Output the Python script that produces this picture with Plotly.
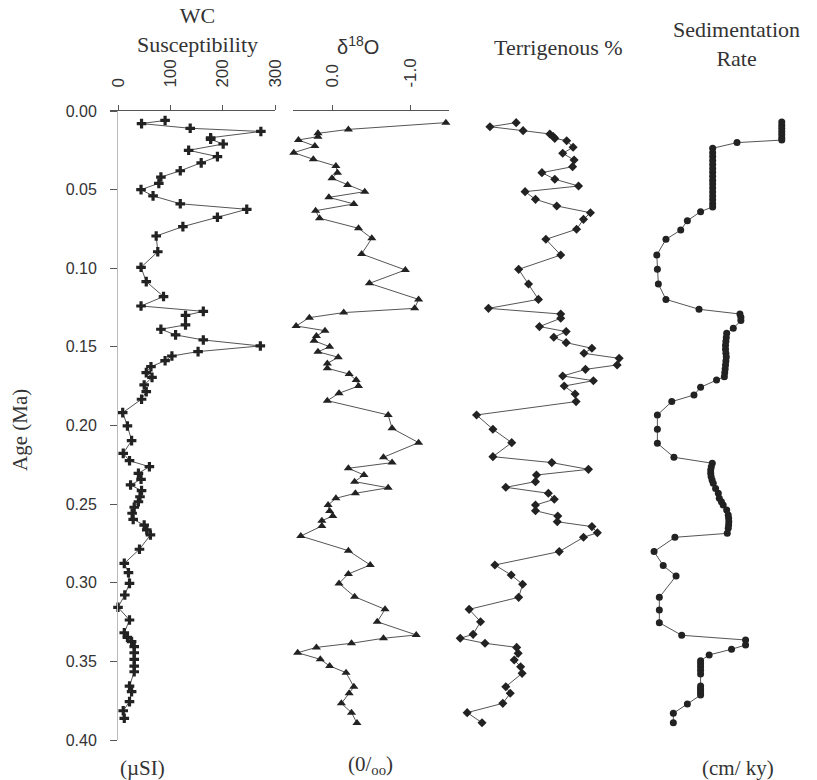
import plotly.graph_objects as go

# ---------------- data ----------------
wc_age = [0.006,0.008,0.011,0.013,0.017,0.018,0.021,0.025,0.029,0.033,
          0.038,0.042,0.046,0.050,0.054,0.059,0.0625,0.0676,0.0735,0.0795,
          0.0895,0.0994,0.1085,0.118,0.124,0.1274,0.130,0.136,0.1388,0.1424,
          0.1456,0.1494,0.153,0.1558,0.1588,0.1626,0.1664,0.1694,0.1742,0.1785,
          0.1833,0.1918,0.2003,0.2096,0.2177,0.2224,0.2262,0.2304,0.2342,0.2378,
          0.2414,0.2453,0.2485,0.252,0.2558,0.2597,0.2633,0.2664,0.2696,0.2787,
          0.2877,0.2936,0.3004,0.3078,0.3156,0.3237,0.3318,0.3347,0.3375,0.3406,
          0.3445,0.3487,0.353,0.3566,0.3657,0.3693,0.3756,0.3814,0.3862]
wc_susceptibility = [90,45,138,273,177,177,201,135,190,159,
                     119,82,78,44,67,119,246,190,124,73,
                     76,44,54,87,44,163,129,129,82,110,
                     163,272,153,103,90,63,54,65,50,54,
                     45,9,18,26,10,22,60,39,44,24,
                     45,42,39,31,27,29,50,55,62,41,
                     12,20,22,13,0,22,12,18,26,31,
                     31,31,31,31,22,26,22,10,12]

d18o_age = [0.0074,0.0117,0.0142,0.0163,0.0184,0.0223,0.0265,0.0307,0.035,0.0392,
            0.0428,0.047,0.0513,0.0549,0.0591,0.0634,0.0682,0.0746,0.081,0.0909,
            0.1011,0.1096,0.1198,0.1255,0.1282,0.1314,0.1367,0.1397,0.1431,0.1461,
            0.1499,0.1531,0.1566,0.1605,0.1636,0.1673,0.1711,0.1749,0.1795,0.1842,
            0.1933,0.2018,0.2109,0.2202,0.2236,0.2272,0.2315,0.2357,0.2396,0.2431,
            0.2463,0.2506,0.2544,0.2576,0.2605,0.2639,0.2703,0.2796,0.2887,0.2944,
            0.3004,0.3089,0.3169,0.3248,0.3332,0.3353,0.3385,0.3411,0.3445,0.3487,
            0.3529,0.3572,0.3661,0.3703,0.3767,0.3826,0.3892]
d18o = [-1.46,-0.21,0.18,0.18,0.43,0.22,0.49,0.24,-0.05,-0.07,
        0.0,-0.2,-0.42,0.04,-0.28,0.21,0.16,-0.34,-0.51,-0.38,
        -0.94,-0.48,-1.11,-1.06,-0.15,0.29,0.46,0.09,0.2,0.23,
        0.03,0.18,-0.08,0.06,0.06,-0.22,-0.31,-0.34,-0.09,0.06,
        -0.72,-0.77,-1.11,-0.66,-0.77,-0.21,-0.41,-0.29,-0.72,-0.3,
        -0.05,0.05,0.03,-0.01,0.13,0.13,0.4,-0.21,-0.49,-0.21,
        -0.09,-0.29,-0.68,-0.58,-1.08,-0.66,-0.25,0.2,0.44,0.15,
        0.03,-0.18,-0.28,-0.22,-0.12,-0.25,-0.32]

terr_age = [0.0074,0.01,0.0125,0.0146,0.0163,0.0174,0.0189,0.0231,0.0269,0.0312,
            0.0354,0.0392,0.0434,0.0477,0.0513,0.0562,0.0604,0.0647,0.0689,0.0752,
            0.0816,0.0916,0.1007,0.11,0.1198,0.1255,0.1291,0.1318,0.1371,0.1403,
            0.1439,0.1473,0.1509,0.1541,0.1573,0.1615,0.1643,0.1685,0.1715,0.1749,
            0.18,0.1848,0.1933,0.2024,0.2109,0.2198,0.2236,0.2279,0.2315,0.2357,
            0.2393,0.2431,0.2469,0.2506,0.2542,0.2576,0.2612,0.2643,0.2682,0.2711,
            0.2802,0.2887,0.2951,0.301,0.3093,0.3169,0.3248,0.3328,0.3353,0.3385,
            0.3411,0.3449,0.3491,0.3534,0.3576,0.3661,0.3703,0.3767,0.3826,0.389]
terrigenous = [26.5,21.2,27.9,33.3,34.0,34.3,36.7,38.0,35.9,38.2,
               37.9,31.7,34.3,39.1,28.3,30.4,34.7,41.5,40.1,38.7,
               32.5,35.5,27.0,29.0,31.0,20.9,35.5,35.5,31.2,36.6,
               34.1,36.6,41.8,40.2,47.3,46.9,40.5,35.9,42.1,36.2,
               38.4,38.6,18.5,21.8,25.6,21.8,33.7,41.1,30.6,30.4,
               24.4,33.0,34.2,30.4,30.4,34.9,34.8,41.8,42.9,40.1,
               35.2,22.2,25.5,27.8,27.0,17.0,19.3,17.8,15.2,20.2,
               26.6,26.9,26.1,27.4,27.7,24.4,25.3,23.8,16.6,19.6]

sed_age = [0.007,0.009,0.011,0.013,0.015,0.017,0.0185,0.0201,0.0237,0.0265,
           0.029,0.0315,0.034,0.0365,0.039,0.0415,0.044,0.0465,0.049,0.0515,
           0.054,0.0565,0.059,0.061,0.064,0.0698,0.0757,0.0816,0.0916,0.1007,
           0.11,0.1198,0.1261,0.1291,0.1312,0.1333,0.1382,0.1414,0.144,0.1465,
           0.149,0.1515,0.154,0.1565,0.159,0.1615,0.164,0.1665,0.169,0.1711,
           0.1757,0.1806,0.1848,0.1933,0.2024,0.2113,0.2202,0.224,0.2262,0.2283,
           0.2304,0.2325,0.2347,0.2368,0.24,0.2431,0.2463,0.2485,0.2506,0.2537,
           0.2569,0.259,0.2612,0.2633,0.2654,0.2686,0.2711,0.2802,0.2891,0.2957,
           0.3093,0.3173,0.3254,0.3334,0.3364,0.3396,0.3423,0.3459,0.3496,0.3515,
           0.3534,0.3557,0.358,0.3657,0.3672,0.3686,0.37,0.3714,0.3771,0.383,
           0.389]
sed_rate = [8.55,8.55,8.55,8.55,8.55,8.55,8.55,6.25,5.0,5.0,
            5.0,5.0,5.0,5.0,5.0,5.0,5.0,5.0,5.0,5.0,
            5.0,5.0,5.0,5.0,4.38,3.7,3.36,2.6,2.13,2.16,
            2.21,2.6,4.3,6.4,6.45,6.45,6.06,5.72,5.7,5.68,
            5.66,5.66,5.68,5.7,5.68,5.66,5.64,5.62,5.6,5.2,
            4.38,4.04,2.9,2.16,2.16,2.16,3.01,4.98,4.93,4.9,
            4.9,4.92,4.97,5.03,5.15,5.29,5.34,5.45,5.54,5.72,
            5.8,5.82,5.83,5.82,5.8,5.75,3.06,1.99,2.46,3.12,
            2.26,2.26,2.26,3.41,6.69,6.69,5.97,4.82,4.38,4.38,
            4.38,4.38,4.38,4.38,4.38,4.38,4.38,4.38,3.7,2.98,
            2.98]

age_ticks = [0.00, 0.05, 0.10, 0.15, 0.20, 0.25, 0.30, 0.35, 0.40]
wc_ticks = [0, 100, 200, 300]
wc_ticktext = ["0", "100", "200", "300"]
d18o_ticks = [0.0, -1.0]
d18o_ticktext = ["0.0", "-1.0"]
terr_ticks = [20, 30, 40, 50]
terr_ticktext = ["20", "30", "40", "50"]
sed_ticks = [2.5, 5, 7.5, 10]
sed_ticktext = ["3", "5", "8", "10"]

# ---------------- layout geometry ----------------
W, H = 817, 780
TOP_PX, BOT_PX = 111, 740
ydom = [1 - BOT_PX / H, 1 - TOP_PX / H]


def axis_range(p0, p1, ap, av, bp, bv):
    """range of an axis spanning pixels p0..p1 where value av sits at ap, bv at bp"""
    k = (bv - av) / (bp - ap)
    return [av + (p0 - ap) * k, av + (p1 - ap) * k]


def dom(p0, p1):
    return [p0 / W, p1 / W]


# visible axes (pixel span, two calibration points)
P1 = (110, 275, 118, 0, 275, 300)
P2 = (293, 449, 332, 0.0, 410, -1.0)
P3 = (480, 633, 484, 20, 583, 40)
P4 = (657, 811, 664, 2.5, 810, 10)
# data axes for panels whose points spill past the drawn axis line
P3d = (450, 642) + P3[2:]
P4d = (648, 815) + P4[2:]

INK = "#222222"
LINE = "#555555"
SANS = "Liberation Sans, Arial, sans-serif"
SERIF = "Liberation Serif, Times New Roman, serif"

fig = go.Figure()

fig.add_trace(go.Scatter(x=wc_susceptibility, y=wc_age, xaxis="x", yaxis="y",
                         mode="lines+markers", cliponaxis=False,
                         line=dict(color=LINE, width=1),
                         marker=dict(symbol="cross", size=8, color=INK)))
fig.add_trace(go.Scatter(x=d18o, y=d18o_age, xaxis="x2", yaxis="y",
                         mode="lines+markers", cliponaxis=False,
                         line=dict(color=LINE, width=1),
                         marker=dict(symbol="triangle-up", size=8, color=INK)))
fig.add_trace(go.Scatter(x=terrigenous, y=terr_age, xaxis="x5", yaxis="y",
                         mode="lines+markers", cliponaxis=False,
                         line=dict(color=LINE, width=1),
                         marker=dict(symbol="diamond", size=7, color=INK)))
fig.add_trace(go.Scatter(x=sed_rate, y=sed_age, xaxis="x6", yaxis="y",
                         mode="lines+markers", cliponaxis=False,
                         line=dict(color=LINE, width=1),
                         marker=dict(symbol="circle", size=7, color=INK)))


def top_axis(p, tickvals, ticktext):
    return dict(domain=dom(p[0], p[1]), range=axis_range(*p), anchor="y",
                side="top", showline=True, linecolor=LINE, linewidth=1,
                ticks="outside", ticklen=5, tickcolor=LINE, tickwidth=1,
                tickvals=tickvals, ticktext=ticktext, tickangle=-90,
                ticklabelstandoff=14,
                tickfont=dict(family=SANS, size=17, color="#333"),
                showgrid=False, zeroline=False, automargin=False)


def hidden_axis(p):
    return dict(domain=dom(p[0], p[1]), range=axis_range(*p), anchor="y",
                visible=False, showgrid=False, zeroline=False)


fig.update_layout(
    width=W, height=H,
    margin=dict(l=0, r=0, t=0, b=0),
    paper_bgcolor="white", plot_bgcolor="rgba(0,0,0,0)",
    showlegend=False,
    xaxis=top_axis(P1, wc_ticks, wc_ticktext),
    xaxis2=top_axis(P2, d18o_ticks, d18o_ticktext),
    xaxis3=top_axis(P3, terr_ticks, terr_ticktext),
    xaxis4=top_axis(P4, sed_ticks, sed_ticktext),
    xaxis5=hidden_axis(P3d),
    xaxis6=hidden_axis(P4d),
    yaxis=dict(domain=ydom, range=[0.4, 0.0], anchor="free",
               position=117 / W, showline=True, linecolor="#bbbbbb",
               linewidth=1, ticks="outside", ticklen=7, tickcolor="#555",
               tickvals=age_ticks, tickformat=".2f", ticklabelstandoff=10,
               tickfont=dict(family=SANS, size=16, color="#333"),
               showgrid=False, zeroline=False, automargin=False),
)

ann = [
    ("WC<br>Susceptibility", 197, 30, SERIF, 22),
    ("δ<sup>18</sup>O", 358, 45, SANS, 20),
    ("Terrigenous %", 558, 47, SERIF, 22),
    ("Sedimentation<br>Rate", 736, 44, SERIF, 22),
    ("(µSI)", 142, 768, SERIF, 21),
    ("(0/<sub>oo</sub>)", 370, 765, SERIF, 21),
    ("(cm/ ky)", 738, 768, SERIF, 21),
]
for text, px, py, fam, size in ann:
    fig.add_annotation(text=text, x=px / W, y=1 - py / H, xref="paper",
                       yref="paper", showarrow=False, xanchor="center",
                       yanchor="middle", font=dict(family=fam, size=size,
                                                   color="#333"))
fig.add_annotation(text="Age (Ma)", x=20 / W, y=1 - 430 / H, xref="paper",
                   yref="paper", showarrow=False, textangle=-90,
                   xanchor="center", yanchor="middle",
                   font=dict(family=SERIF, size=21, color="#333"))

fig.write_html("out.html",
               config={"displayModeBar": False},
               post_script="document.body.style.margin='0';"
                           "document.body.style.overflow='hidden';")
